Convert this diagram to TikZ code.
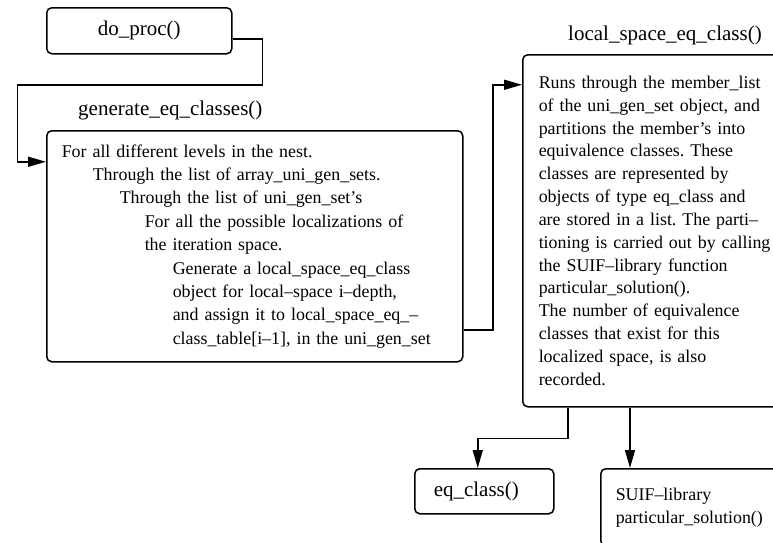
\documentclass[tikz,border=0pt]{standalone}
\usepackage{fontspec}
\setmainfont{Liberation Serif}
\usetikzlibrary{arrows.meta}
\frenchspacing
\begin{document}
\begin{tikzpicture}[x=1pt,y=-1pt,
  box/.style={draw, line width=1.5pt, rounded corners=5pt},
  wire/.style={line width=1.5pt},
  conn/.style={wire, -{Triangle[length=18pt,width=10pt]}},
  lbl/.style={font=\fontsize{21}{25}\selectfont, inner sep=0pt},
  body/.style={font=\fontsize{17.9}{#1}\selectfont, align=left},
  body/.default=22.9]
\useasboundingbox (0,0) rectangle (773,542);
\clip (0,0) rectangle (773,542);

% call boxes
\node[box, lbl, anchor=north west, minimum width=185pt, minimum height=46pt]
  (do) at (46,7) {do\_proc()};

\node[lbl, anchor=base west] (genlbl) at (78,115) {generate\_eq\_classes()};
\node[box, body=23.4, anchor=north west, text width=386pt, inner xsep=15pt,
  inner ysep=0pt, minimum height=231pt] (gen) at (46,130)
  {For all different levels in the nest.\\
   \hspace*{31pt}Through the list of array\_uni\_gen\_sets.\\
   \hspace*{58pt}Through the list of uni\_gen\_set’s\\
   \hspace*{83pt}For all the possible localizations of\\
   \hspace*{83pt}the iteration space.\\
   \hspace*{111pt}Generate a local\_space\_eq\_class\\
   \hspace*{111pt}object for local–space i–depth,\\
   \hspace*{111pt}and assign it to local\_space\_eq\_–\\
   \hspace*{111pt}class\_table[i–1], in the uni\_gen\_set};

\node[lbl, anchor=base west] (loclbl) at (568,40) {local\_space\_eq\_class()};
\node[box, body=22.85, anchor=north west, text width=250pt, inner xsep=16pt,
  inner ysep=0pt, minimum height=352pt] (loc) at (522,54)
  {Runs through the member\_list\\
   of the uni\_gen\_set object, and\\
   partitions the member’s into\\
   equivalence classes. These\\
   classes are represented by\\
   objects of type eq\_class and\\
   are stored in a list. The parti–\\
   tioning is carried out by calling\\
   the SUIF–library function\\
   particular\_solution().\\
   The number of equivalence\\
   classes that exist for this\\
   localized space, is also\\
   recorded.};

\node[box, lbl, anchor=north west, align=left, text width=101pt, inner xsep=19pt,
  minimum height=45pt] (eq) at (414,468) {eq\_class()};

\node[box, body=23, anchor=north west, text width=185pt, inner xsep=15pt,
  inner ysep=0pt, minimum height=77pt] (suif) at (600,468)
  {SUIF–library\\particular\_solution()};

% connectors
\draw[conn] ([yshift=-8pt]do.east) -- ++(30,0) -- ++(0,46) -- ++(-245,0)
  |- ([yshift=84.5pt]gen.west);
\draw[conn] ([yshift=-83.5pt]gen.east) -- ++(29.5,0) |- ([yshift=146pt]loc.west);
\draw[conn] ([xshift=46pt]loc.south west) -- ++(0,31) -| ([xshift=-6.5pt]eq.north);
\draw[conn] ([xshift=108pt]loc.south west) coordinate (s1) -- (s1 |- suif.north);
\end{tikzpicture}
\end{document}
